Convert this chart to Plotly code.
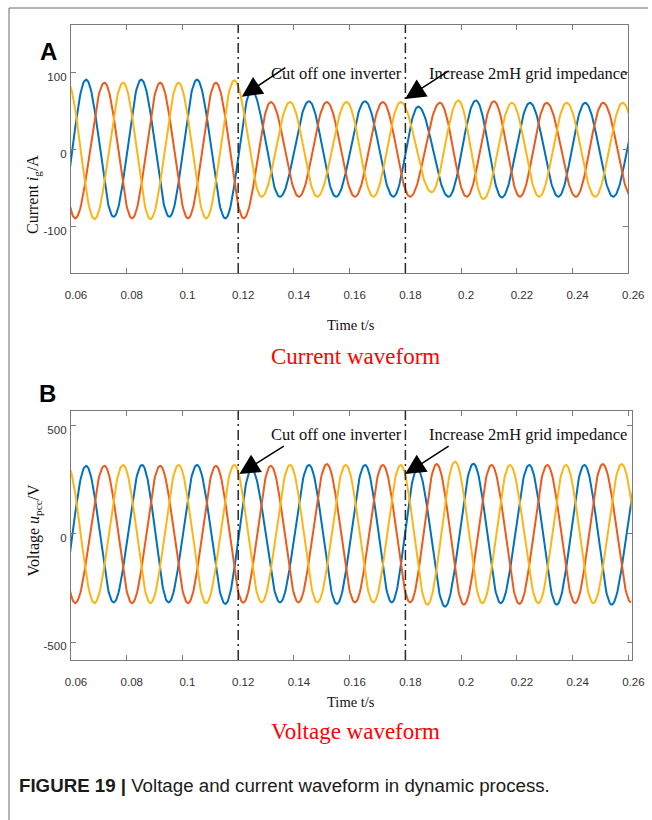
import numpy as np
import plotly.graph_objects as go

# ---------------- data (extrema of each phase) ----------------
# Panel A: grid current (A)
A_BLUE_T = [0.0557, 0.0654, 0.0753, 0.0852, 0.0953, 0.1052, 0.1154, 0.1248, 0.1350, 0.1454, 0.1551,
            0.1655, 0.1757, 0.1846, 0.1955, 0.2053, 0.2146, 0.2247, 0.2349, 0.2445, 0.2546, 0.2645]
A_BLUE_V = [-88, 91, -87, 91, -87, 91, -89, 77, -61, 63, -61, 63, -61, 56, -61, 64, -62, 61, -61, 61, -61, 61]
A_RED_T = [0.0518, 0.0615, 0.0720, 0.0819, 0.0920, 0.1020, 0.1120, 0.1220, 0.1317, 0.1418, 0.1518,
           0.1619, 0.1719, 0.1817, 0.1924, 0.2020, 0.2118, 0.2211, 0.2307, 0.2412, 0.2510, 0.2612]
A_RED_V = [87, -89, 87, -89, 87, -89, 87, -89, 62, -61, 62, -61, 62, -61, 61, -61, 63, -61, 61, -61, 61, -61]
A_YEL_T = [0.0586, 0.0684, 0.0787, 0.0885, 0.0986, 0.1085, 0.1186, 0.1284, 0.1386, 0.1484, 0.1589,
           0.1685, 0.1783, 0.1894, 0.1990, 0.2080, 0.2182, 0.2280, 0.2379, 0.2481, 0.2580, 0.2680]
A_YEL_V = [89, -90, 87, -90, 87, -89, 90, -61, 62, -61, 62, -61, 62, -55, 64, -64, 61, -61, 61, -61, 61, -61]

# Panel B: PCC voltage (V)
B_BLUE_T = [0.0557, 0.0654, 0.0753, 0.0855, 0.0950, 0.1052, 0.1154, 0.1248, 0.1350, 0.1454, 0.1554,
            0.1655, 0.1751, 0.1843, 0.1942, 0.2044, 0.2142, 0.2244, 0.2343, 0.2442, 0.2540, 0.2645]
B_BLUE_V = [-317, 314, -317, 318, -317, 318, -324, 298, -317, 318, -324, 318, -317, 298, -336, 324,
            -320, 318, -327, 318, -327, 320]
B_RED_T = [0.0518, 0.0615, 0.0720, 0.0819, 0.0920, 0.1020, 0.1120, 0.1218, 0.1317, 0.1416, 0.1518,
           0.1619, 0.1719, 0.1817, 0.1912, 0.2010, 0.2109, 0.2209, 0.2309, 0.2409, 0.2508, 0.2610]
B_RED_V = [314, -320, 314, -320, 314, -320, 314, -318, 314, -317, 322, -317, 318, -317, 322, -327,
           318, -324, 318, -320, 322, -317]
B_YEL_T = [0.0586, 0.0684, 0.0787, 0.0885, 0.0986, 0.1085, 0.1186, 0.1284, 0.1386, 0.1484, 0.1586,
           0.1685, 0.1783, 0.1879, 0.1978, 0.2076, 0.2175, 0.2277, 0.2376, 0.2474, 0.2576, 0.2675]
B_YEL_V = [318, -320, 318, -320, 318, -320, 318, -317, 318, -317, 318, -317, 318, -327, 334, -320,
           318, -320, 318, -320, 322, -320]

X_TICKS = [0.06, 0.08, 0.1, 0.12, 0.14, 0.16, 0.18, 0.2, 0.22, 0.24, 0.26]
X_TICK_TEXT = ["0.06", "0.08", "0.1", "0.12", "0.14", "0.16", "0.18", "0.2", "0.22", "0.24", "0.26"]
A_Y_TICKS = [-100, 0, 100]
B_Y_TICKS = [-500, 0, 500]
EVENT_T = [0.12, 0.18]
EVENT_TEXT = ["Cut off one inverter", "Increase 2mH grid impedance"]

COLORS = ["#0072BD", "#EE5A1C", "#FDB515"]


def wave(ts, vs, n=40):
    """Join successive extrema with half-cosine arcs."""
    xs, ys = [], []
    for i in range(len(ts) - 1):
        t0, t1, v0, v1 = ts[i], ts[i + 1], vs[i], vs[i + 1]
        f = np.linspace(0, 1, n, endpoint=False)
        xs.extend(t0 + f * (t1 - t0))
        ys.extend((v0 + v1) / 2 + (v0 - v1) / 2 * np.cos(np.pi * f))
    xs.append(ts[-1])
    ys.append(vs[-1])
    return xs, ys


W, H = 652, 820


def px(x):
    return x / W


def py(y):
    return 1 - y / H


fig = go.Figure()
for (ts, vs), c in zip([(A_BLUE_T, A_BLUE_V), (A_RED_T, A_RED_V), (A_YEL_T, A_YEL_V)], COLORS):
    x, y = wave(ts, vs)
    fig.add_trace(go.Scatter(x=x, y=y, mode="lines", line=dict(color=c, width=2),
                             xaxis="x", yaxis="y", showlegend=False, hoverinfo="skip"))
for (ts, vs), c in zip([(B_BLUE_T, B_BLUE_V), (B_RED_T, B_RED_V), (B_YEL_T, B_YEL_V)], COLORS):
    x, y = wave(ts, vs)
    fig.add_trace(go.Scatter(x=x, y=y, mode="lines", line=dict(color=c, width=2),
                             xaxis="x2", yaxis="y2", showlegend=False, hoverinfo="skip"))

axis_common = dict(showgrid=False, zeroline=False, showline=True, linecolor="#7a7a7a", linewidth=1.3,
                   mirror="ticks", ticks="inside", ticklen=5, tickcolor="#7a7a7a", tickwidth=1.2,
                   automargin=False,
                   tickfont=dict(family="Liberation Sans, Arial", size=11.5, color="#333333"))

fig.update_layout(
    width=W, height=H, margin=dict(l=0, r=0, t=0, b=0, autoexpand=False),
    paper_bgcolor="white", plot_bgcolor="white",
    xaxis=dict(domain=[px(71), px(628.3)], range=[0.06, 0.26], anchor="y",
               tickvals=X_TICKS, ticktext=X_TICK_TEXT, ticklabelshift=5, ticklabelstandoff=11,
               **axis_common),
    yaxis=dict(domain=[py(273), py(25)], range=[-160, 162], anchor="x",
               tickvals=A_Y_TICKS, ticktext=[str(v) for v in A_Y_TICKS], ticklabelstandoff=1,
               ticklabelshift=4, **axis_common),
    xaxis2=dict(domain=[px(71), px(631.7)], range=[0.06, 0.2612], anchor="y2",
                tickvals=X_TICKS, ticktext=X_TICK_TEXT, ticklabelshift=5, ticklabelstandoff=11,
                **axis_common),
    yaxis2=dict(domain=[py(660), py(410.7)], range=[-583, 569], anchor="x2",
                tickvals=B_Y_TICKS, ticktext=[str(v) for v in B_Y_TICKS], ticklabelstandoff=1,
                ticklabelshift=4, **axis_common),
)

# event lines
for xr, yr in [("x", "y"), ("x2", "y2")]:
    for t in EVENT_T:
        fig.add_shape(type="line", xref=xr, yref=yr + " domain", x0=t, x1=t, y0=0, y1=1,
                      line=dict(color="#2a2a2a", width=1.5, dash="10px,4px,2px,4px"))

# figure frame (top and left rules)
fig.add_shape(type="line", xref="paper", yref="paper", x0=px(9), x1=px(648), y0=py(8), y1=py(8),
              line=dict(color="#6a6a6a", width=1))
fig.add_shape(type="line", xref="paper", yref="paper", x0=px(9), x1=px(9), y0=py(8), y1=0,
              line=dict(color="#6a6a6a", width=1))

serif = "Liberation Serif, Times New Roman, serif"
sans = "Liberation Sans, Arial, sans-serif"
ann = []
# panel letters
ann.append(dict(x=px(37.5), y=py(36), xref="paper", yref="paper", text="<b>A</b>", showarrow=False,
                font=dict(family=sans, size=24, color="black")))
ann.append(dict(x=px(37), y=py(393), xref="paper", yref="paper", text="<b>B</b>", showarrow=False,
                font=dict(family=sans, size=24, color="black")))
# y titles
ann.append(dict(x=px(45), y=py(153), xref="paper", yref="paper", textangle=-90, xanchor="right",
                text="Current <i>i</i><sub>g</sub>/A", showarrow=False,
                font=dict(family=serif, size=16, color="#111")))
ann.append(dict(x=px(45), y=py(530), xref="paper", yref="paper", textangle=-90, xanchor="right",
                text="Voltage <i>u</i><sub>pcc</sub>/V", showarrow=False,
                font=dict(family=serif, size=16, color="#111")))
# x titles
for yy in (325, 712):
    ann.append(dict(x=px(351), y=py(yy), xref="paper", yref="paper", text="Time t/s", showarrow=False,
                    font=dict(family=serif, size=14.5, color="#111")))
ann.append(dict(x=px(355.5), y=py(356.5), xref="paper", yref="paper", text="Current waveform",
                showarrow=False, font=dict(family=serif, size=23, color="#FF0000")))
ann.append(dict(x=px(355.5), y=py(746), xref="paper", yref="paper", text="Voltage waveform",
                showarrow=False, font=dict(family=serif, size=23, color="#FF0000")))
# event texts
for yy in (62, 434):
    ann.append(dict(x=px(269), y=py(yy), xref="paper", yref="paper", text=EVENT_TEXT[0], xanchor="left",
                    showarrow=False, font=dict(family=serif, size=16.5, color="#111")))
    ann.append(dict(x=px(427), y=py(yy), xref="paper", yref="paper", text=EVENT_TEXT[1], xanchor="left",
                    showarrow=False, font=dict(family=serif, size=16.5, color="#111")))
# arrows (tip in data coordinates, tail offset in px)
arrows = [("x", "y", 0.1213, 69, 45, -30), ("x", "y", 0.1799, 66, 45, -29),
          ("x2", "y2", 0.1204, 276, 46, -29), ("x2", "y2", 0.1799, 276, 45, -29)]
for xr, yr, t, v, axp, ayp in arrows:
    ann.append(dict(x=t, y=v, xref=xr, yref=yr, ax=axp, ay=ayp, text="", showarrow=True,
                    arrowhead=2, arrowsize=2.7, arrowwidth=1.5, arrowcolor="black", standoff=0))
# caption
ann.append(dict(x=px(17), y=py(798), xref="paper", yref="paper", xanchor="left",
                text="<b>FIGURE 19 |</b> Voltage and current waveform in dynamic process.",
                showarrow=False, font=dict(family=sans, size=18.7, color="#1a1a1a")))
fig.update_layout(annotations=ann)

fig.write_html("out.html")
